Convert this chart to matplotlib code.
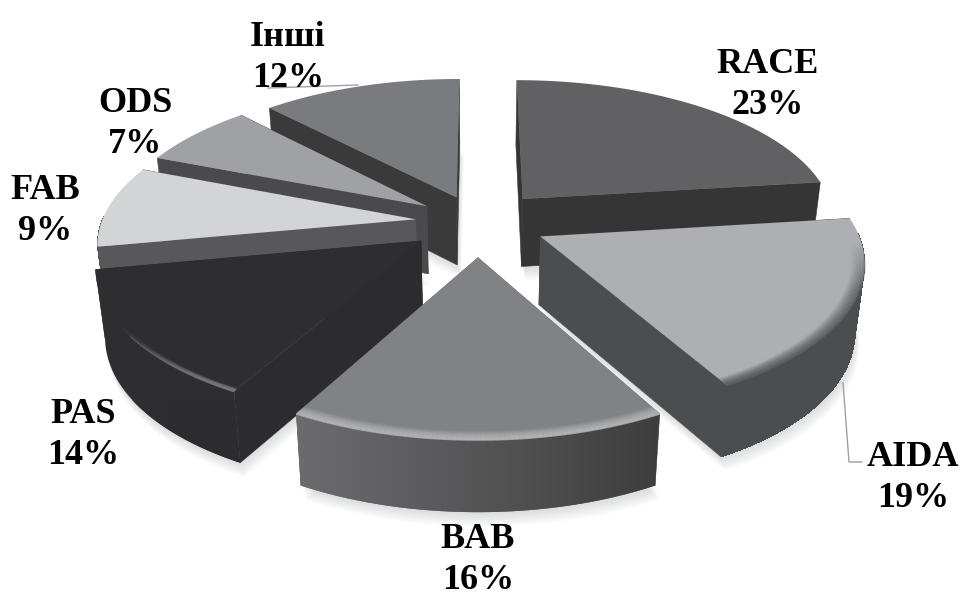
import numpy as np
import matplotlib
matplotlib.use("Agg")
import matplotlib.pyplot as plt
from matplotlib.collections import LineCollection, PolyCollection
from matplotlib.colors import LinearSegmentedColormap, to_rgb
from matplotlib.patches import Polygon

names = ["RACE", "AIDA", "BAB", "PAS", "FAB", "ODS", "Інші"]
shares = [23, 19, 16, 14, 9, 7, 12]

# per slice look
explode = [0.22, 0.22, 0.24, 0.22, 0.20, 0.20, 0.19]
top_colors = ["#616163", "#aeafb2", "#818285", "#2e2d2f", "#d3d4d6", "#a0a1a4", "#7a7b7e"]
wall_left = ["#353535", "#4c4d4f", "#6c6c6e", "#2e2d2f", "#58585a", "#4a4a4d", "#3a3a3b"]
wall_right = ["#353535", "#4c4d4f", "#3e3e3f", "#2c2b2d", "#58585a", "#4a4a4d", "#3a3a3b"]
bevel_colors = [None, "#55565a", "#b4b5b7", "#77777a", None, None, None]
label_pos = [(768, 85), (913, 478), (478, 560), (83, 435), (45, 211), (135, 124), (288, 58)]
draw_order = [6, 0, 5, 4, 1, 3, 2]

# projection of the tilted disc
CX, CY = 478, 222
R, B, K = 314, 143, 0.15
H = 68


def project(X, Y, low=False):
    s = 1 / (1 + K * Y)
    x = CX + R * X * s
    y = CY - B * Y * s
    if low:
        x = CX + (x - CX) * 0.975
        y = y + H * s ** 0.3
    return np.column_stack([x, y])


def rim(a0, a1, e, radius=1.0, n=80):
    mid = (a0 + a1) / 2
    ox, oy = e * np.sin(mid), e * np.cos(mid)
    t = np.linspace(a0, a1, n)
    return t, ox + radius * np.sin(t), oy + radius * np.cos(t), ox, oy


def bevel_fade(i, t):
    # how strongly the rim shows along the arc of each slice
    deg = np.degrees(t)
    if i == 1:
        return np.clip((deg - 92) / 18, 0, 1)
    if i == 3:
        return np.clip((240 - deg) / 30, 0, 1) ** 1.5
    return np.ones_like(deg)


fig = plt.figure(figsize=(9.63, 5.97), dpi=100)
ax = fig.add_axes([0, 0, 1, 1])

edges = np.radians(np.cumsum([0] + shares) * 360 / sum(shares))

# soft shadow under the slices
for i in draw_order:
    t, xs, ys, ox, oy = rim(edges[i], edges[i + 1], explode[i])
    X = np.r_[ox, xs]
    Y = np.r_[oy, ys]
    for off in range(2, 15, 2):
        pts = project(X, Y, low=True) + [0.3 * off, off]
        ax.add_patch(Polygon(pts, fc="#8a8c90", ec="none", alpha=0.045, zorder=1))

z = 2
for i in draw_order:
    a0, a1 = edges[i], edges[i + 1]
    t, xs, ys, ox, oy = rim(a0, a1, explode[i])
    c0 = to_rgb(wall_left[i])
    c1 = to_rgb(wall_right[i])

    # flat cut faces
    for end_x, end_y in [(xs[0], ys[0]), (xs[-1], ys[-1])]:
        X = np.array([ox, end_x])
        Y = np.array([oy, end_y])
        pts = np.vstack([project(X, Y), project(X[::-1], Y[::-1], low=True)])
        side = c1 if i == 3 else c0
        ax.add_patch(Polygon(pts, fc=side, ec=side, lw=0.4, zorder=z))

    # curved outer wall, only the part turned to the viewer
    front = np.cos(t) <= 0.02
    if front.sum() > 1:
        up = project(xs[front], ys[front])
        lo = project(xs[front], ys[front], low=True)
        wall = Polygon(np.vstack([up, lo[::-1]]), fc=c0, ec="none", zorder=z)
        ax.add_patch(wall)
        if c0 != c1:
            cmap = LinearSegmentedColormap.from_list("wall", [c0, c1])
            shade = ax.imshow(np.linspace(0, 1, 256)[None, :], cmap=cmap, aspect="auto",
                              extent=[wall.get_xy()[:, 0].min(), wall.get_xy()[:, 0].max(), 520, 400],
                              zorder=z)
            shade.set_clip_path(wall)
        else:
            quads = [[up[j], up[j + 1], lo[j + 1], lo[j]] for j in range(len(up) - 1)]
            ax.add_collection(PolyCollection(quads, facecolors=[c0], edgecolors="none",
                                             antialiaseds=False, zorder=z))

    # top face
    pts = project(np.r_[ox, xs], np.r_[oy, ys])
    ax.add_patch(Polygon(pts, fc=top_colors[i], ec="none", zorder=z + 1))

    # rounded rim where the top meets the wall
    if bevel_colors[i] is not None:
        keep = np.cos(t) < 0.3
        fade = bevel_fade(i, t[keep])
        rgb = to_rgb(bevel_colors[i])
        lo_r = 0.985 if i == 3 else 0.96
        for k, r in enumerate(np.linspace(lo_r, 1.0, 10)):
            _, bx, by, _, _ = rim(a0, a1, explode[i], radius=r)
            line = project(bx[keep], by[keep])
            segs = np.stack([line[:-1], line[1:]], axis=1)
            strength = (0.05 + 0.09 * k) * fade[:-1]
            rim_lines = LineCollection(segs, colors=[(*rgb, a) for a in strength],
                                       linewidths=1.4, capstyle="butt", zorder=z + 2)
            rim_lines.set_snap(False)
            ax.add_collection(rim_lines)
    z += 3

# leader lines
ax.plot([268, 358], [88, 85], color="#a0a0a2", lw=1, zorder=z)
ax.plot([843, 849, 862], [383, 462, 462], color="#a0a0a2", lw=1, zorder=z)

for name, share, (lx, ly) in zip(names, shares, label_pos):
    ax.text(lx, ly, f"{name}\n{share}%", ha="center", va="center", fontsize=26,
            family="Liberation Serif", fontweight="bold", color="black",
            linespacing=1.35, zorder=z + 1)

ax.set_xlim(0, 963)
ax.set_ylim(597, 0)
ax.axis("off")

fig.savefig("out.png", dpi=100)
